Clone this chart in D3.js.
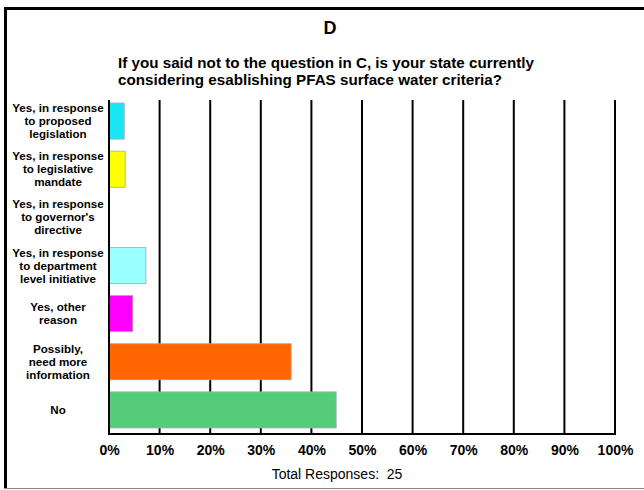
<!DOCTYPE html>
<html>
<head>
<meta charset="utf-8">
<script src="https://cdn.jsdelivr.net/npm/d3@7"></script>
<style>
body{margin:0;background:#fff;}
svg{display:block;font-family:"Liberation Sans",Arial,sans-serif;}
</style>
</head>
<body>
<div id="chart"></div>
<script>
const categories = [
  ["Yes, in response","to proposed","legislation"],
  ["Yes, in response","to legislative","mandate"],
  ["Yes, in response","to governor's","directive"],
  ["Yes, in response","to department","level initiative"],
  ["Yes, other","reason"],
  ["Possibly,","need more","information"],
  ["No"]
];
const values = [3, 3.2, 0, 7.3, 4.7, 36, 44.9];
const colors = ["#19e6f2", "#ffff00", "#ffffff", "#99ffff", "#ff00ff", "#ff6600", "#55cc7a"];
const ticks = [0,10,20,30,40,50,60,70,80,90,100];
const panelLetter = "D";
const titleLines = ["If you said not to the question in C, is your state currently",
                    "considering esablishing PFAS surface water criteria?"];
const footer = "Total Responses:\u00a0 25";

const W = 644, H = 490;
const svg = d3.select("#chart").append("svg").attr("width", W).attr("height", H);

// frame
svg.append("rect").attr("x",0).attr("y",0).attr("width",W).attr("height",H).attr("fill","#fff");
svg.append("line").attr("x1",4).attr("x2",W).attr("y1",8.5).attr("y2",8.5).attr("stroke","#000").attr("stroke-width",3);
svg.append("line").attr("x1",5.5).attr("x2",5.5).attr("y1",7).attr("y2",489).attr("stroke","#000").attr("stroke-width",3);
svg.append("line").attr("x1",4).attr("x2",W).attr("y1",488.5).attr("y2",488.5).attr("stroke","#888").attr("stroke-width",1);

// titles
svg.append("text").attr("x",330).attr("y",34).attr("text-anchor","middle")
  .attr("font-weight","bold").attr("font-size",18).text(panelLetter);
svg.selectAll("text.title").data(titleLines).join("text").attr("class","title")
  .attr("x",118).attr("y",(d,i)=>68+i*16.5).attr("font-weight","bold").attr("font-size",15.2).text(d=>d);

const x = d3.scaleLinear().domain([0,100]).range([109,615]);
const y = d3.scaleBand().domain(d3.range(categories.length)).range([97,434]).paddingInner(0.25).paddingOuter(0.125);

// gridlines
svg.selectAll("line.grid").data(ticks.slice(1)).join("line").attr("class","grid")
  .attr("x1",d=>x(d)).attr("x2",d=>x(d)).attr("y1",100).attr("y2",434)
  .attr("stroke","#000").attr("stroke-width",2);

// bars
svg.selectAll("rect.bar").data(values).join("rect").attr("class","bar")
  .attr("x",x(0)).attr("y",(d,i)=>y(i)).attr("width",d=>x(d)-x(0)).attr("height",y.bandwidth())
  .attr("fill",(d,i)=>colors[i]).attr("stroke",(d,i)=>d>0?"#aaa":"none").attr("stroke-width",0.8);

// axes lines
svg.append("line").attr("x1",x(0)).attr("x2",x(0)).attr("y1",100).attr("y2",435).attr("stroke","#000").attr("stroke-width",2);
svg.append("line").attr("x1",x(0)-1).attr("x2",x(100)+1).attr("y1",434).attr("y2",434).attr("stroke","#000").attr("stroke-width",2);

// x tick labels
const xAxis = d3.axisBottom(x).tickValues(ticks).tickFormat(d=>d+"%").tickSize(0).tickPadding(0);
const gx = svg.append("g").attr("transform","translate(0,442)").call(xAxis);
gx.select(".domain").remove();
gx.selectAll("text").attr("font-family","'Liberation Sans',Arial,sans-serif")
  .attr("font-weight","bold").attr("font-size",14).attr("fill","#000").attr("dy","0.9em");

// category labels
const lineH = 13;
categories.forEach((lines,i)=>{
  const cy = y(i)+y.bandwidth()/2;
  const t = svg.append("text").attr("text-anchor","middle").attr("font-weight","bold").attr("font-size",11.6);
  lines.forEach((ln,j)=>{
    t.append("tspan").attr("x",58).attr("y",cy + (j-(lines.length-1)/2)*lineH + 4).text(ln);
  });
});

// footer
svg.append("text").attr("x",337).attr("y",479).attr("text-anchor","middle").attr("font-size",14).text(footer);
</script>
</body>
</html>
